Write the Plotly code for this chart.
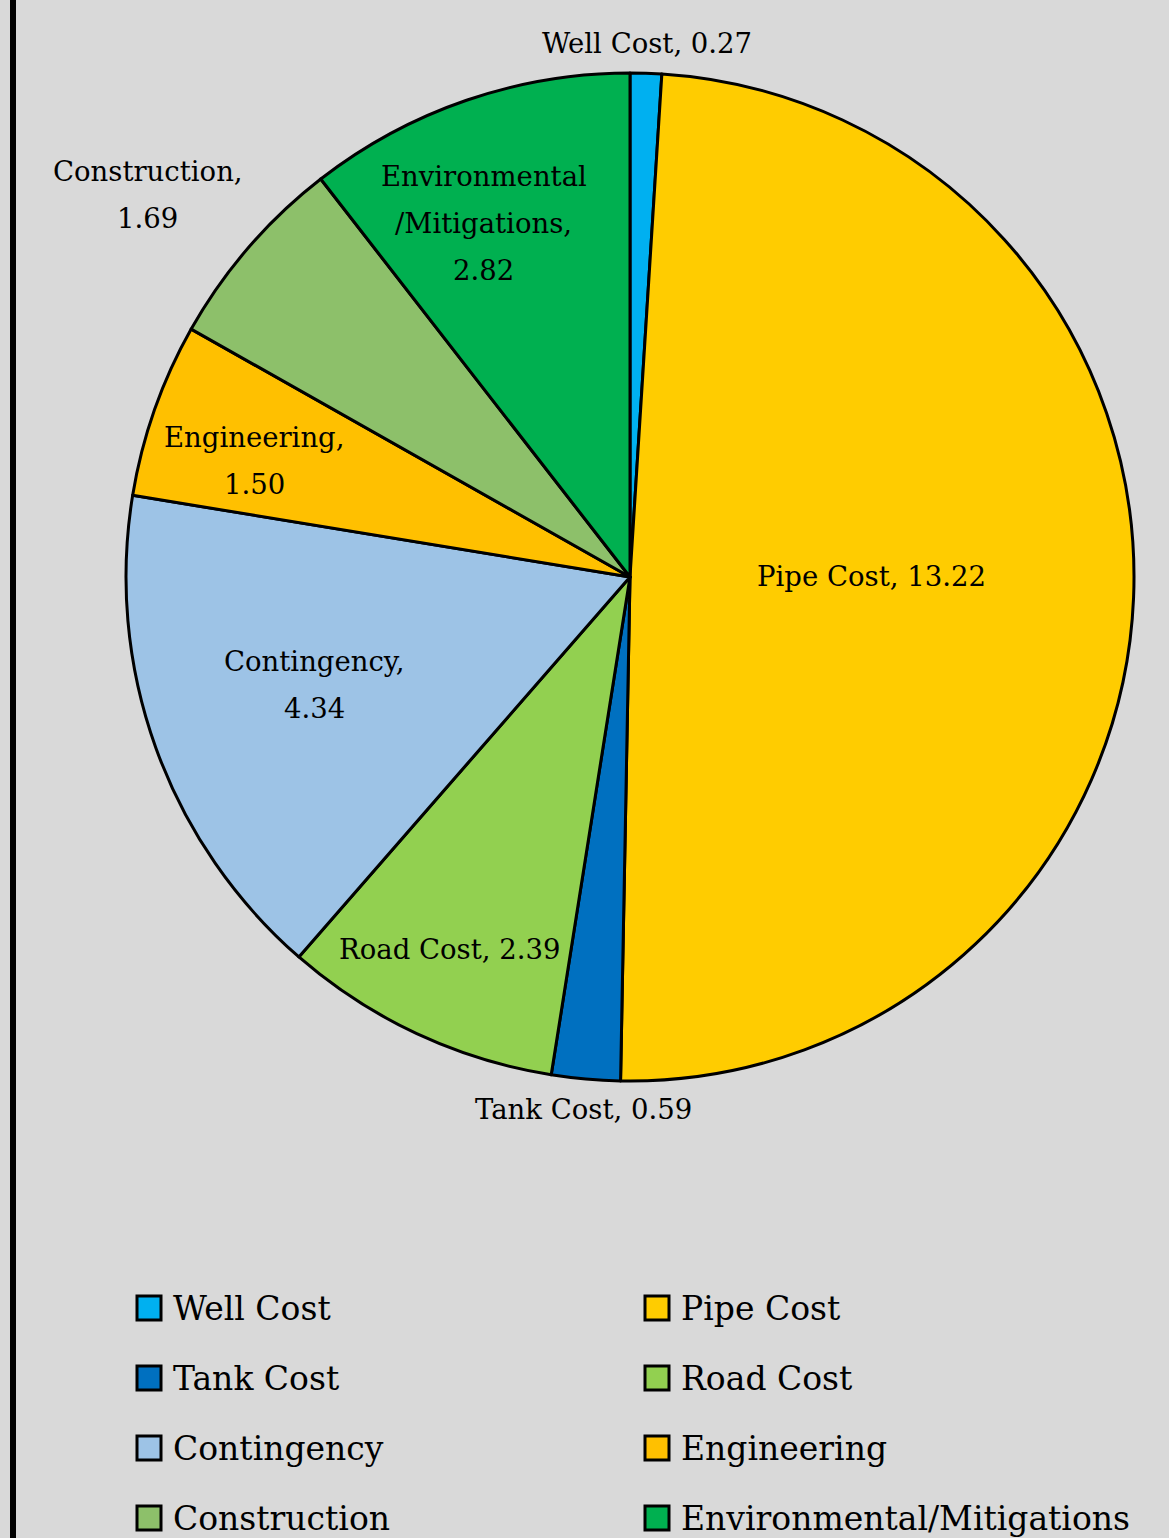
import math
import plotly.graph_objects as go

# ---- data ----
labels = ["Well Cost", "Pipe Cost", "Tank Cost", "Road Cost", "Contingency",
          "Engineering", "Construction", "Environmental/Mitigations"]
values = [0.27, 13.22, 0.59, 2.39, 4.34, 1.50, 1.69, 2.82]
colors = ["#00B0F0", "#FFCC00", "#0070C0", "#92D050", "#9DC3E6",
          "#FFC000", "#8DC06A", "#00B050"]

# how each data label is wrapped into lines
label_lines = {
    "Contingency": ["{l},", "{v:.2f}"],
    "Engineering": ["{l},", "{v:.2f}"],
    "Construction": ["{l},", "{v:.2f}"],
    "Environmental/Mitigations": ["Environmental", "/Mitigations,", "{v:.2f}"],
}
# label placement style: distance from centre (fraction of radius) and small pixel nudges
label_radius = [1.06, 0.48, 1.06, 0.82, 0.66, 0.78, 1.23, 0.76]
label_nudge = [(0, 0), (0, -11), (0, 0), (-6, -2), (-3, -5), (-5, 14), (-13, 23), (-22, 8)]

W, H = 1169, 1538
FONT = "DejaVu Serif"
LBL_SIZE = 27.5
LINE_H = 47

# pie geometry in pixels
cx, cy, R = 630, 577, 504

fig = go.Figure()
fig.add_trace(go.Pie(
    labels=labels, values=values, sort=False, direction="clockwise", rotation=0,
    marker=dict(colors=colors, line=dict(color="black", width=3)),
    textinfo="none",
    domain=dict(x=[(cx - R) / W, (cx + R) / W], y=[1 - (cy + R) / H, 1 - (cy - R) / H]),
    showlegend=False, hoverinfo="label+value",
))

annotations = []
total = sum(values)
cum = 0.0
for lab, v, rf, (nx, ny) in zip(labels, values, label_radius, label_nudge):
    mid = (cum + v / 2) / total * 2 * math.pi
    cum += v
    px = cx + rf * R * math.sin(mid) + nx
    py = cy - rf * R * math.cos(mid) + ny
    lines = [s.format(l=lab, v=v) for s in label_lines.get(lab, ["{l}, {v:.2f}"])]
    n = len(lines)
    for k, t in enumerate(lines):
        ly = py + (k - (n - 1) / 2) * LINE_H
        annotations.append(dict(xref="paper", yref="paper", x=px / W, y=1 - ly / H,
                                text=t, showarrow=False, xanchor="center", yanchor="middle",
                                font=dict(family=FONT, size=LBL_SIZE, color="black")))

shapes = [dict(type="line", xref="paper", yref="paper", x0=13 / W, x1=13 / W, y0=0, y1=1,
               line=dict(color="black", width=6))]
# manual two-column legend
lx0, ly0, col_w, row_h, sq = 137, 1296, 508, 70, 24
for i, (lab, col) in enumerate(zip(labels, colors)):
    r, c = divmod(i, 2)
    x = lx0 + c * col_w
    y = ly0 + r * row_h
    shapes.append(dict(type="rect", xref="paper", yref="paper",
                       x0=x / W, x1=(x + sq) / W, y0=1 - (y + sq) / H, y1=1 - y / H,
                       fillcolor=col, line=dict(color="black", width=3)))
    annotations.append(dict(xref="paper", yref="paper", x=(x + sq + 10) / W, y=1 - (y + sq / 2) / H,
                            text=lab, showarrow=False, xanchor="left", yanchor="middle",
                            font=dict(family=FONT, size=33, color="black")))

fig.update_layout(
    width=W, height=H, margin=dict(l=0, r=0, t=0, b=0),
    paper_bgcolor="#D9D9D9", plot_bgcolor="#D9D9D9",
    shapes=shapes, annotations=annotations,
)
fig.write_html("out.html")
